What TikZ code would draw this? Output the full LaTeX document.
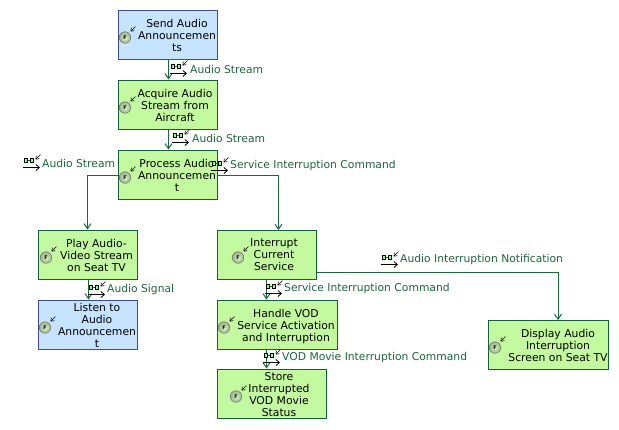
\documentclass[tikz,border=0pt]{standalone}
\usepackage{fontspec}
\setmainfont{DejaVu Sans}
\usetikzlibrary{arrows.meta}
\definecolor{linkgreen}{HTML}{1F6440}
\definecolor{boxgreen}{HTML}{C3FA9F}
\definecolor{boxgreenline}{HTML}{15603A}
\definecolor{boxblue}{HTML}{C6E4FF}
\definecolor{boxblueline}{HTML}{3D4C8C}
\tikzset{
  greenbox/.style={draw=boxgreenline,fill=boxgreen,line width=1pt,inner sep=0pt},
  bluebox/.style={draw=boxblueline,fill=boxblue,line width=1pt,inner sep=0pt},
  boxtext/.style={align=center,inner sep=0pt,yshift=-2.3pt,font=\fontsize{10.8}{12}\selectfont\strut},
  flowlabel/.style={anchor=west,inner sep=0pt,text=linkgreen,font=\fontsize{10.75}{12}\selectfont},
  flow/.style={draw=linkgreen,line width=1pt,-{Straight Barb[length=5pt,width=7pt,line width=1pt]}},
  funcicon/.pic={
    \shade[inner color=boxgreen!70!white,outer color=boxgreen!40!gray,draw=black!55,line width=.5pt] (0,.5) circle (5.8);
    \node[inner sep=0pt,font=\fontsize{5}{5}\selectfont\bfseries] at (0,.5) {F};
    \draw[black,line width=.6pt,-{Straight Barb[length=2.8pt,width=4.2pt,line width=.6pt]}] (10.5,-10.5) -- (5.5,-5.5);
  },
  msgicon/.pic={
    \draw[black,line width=.8pt,-{Straight Barb[length=3.5pt,width=6pt,line width=.8pt]}] (0,4.5) -- (17,4.5);
    \draw[black,fill=green!45!white,line width=.6pt] (1,-4.5) rectangle (4.5,-.5) (7,-4.5) rectangle (10.5,-.5);
    \draw[green!50!black,line width=.8pt] (4.5,-2.5) -- (7,-2.5);
    \draw[black,line width=.6pt,-{Straight Barb[length=2.8pt,width=4.2pt,line width=.6pt]}] (17.5,-8.5) -- (12.5,-3.5);
  }
}
\begin{document}
\begin{tikzpicture}[x=1pt,y=-1pt]
\useasboundingbox[fill=white] (0,0) rectangle (619,429);
% boxes
\node[bluebox,minimum width=99pt,minimum height=49pt] (send) at (167.5,34.5) {};
\node[greenbox,minimum width=99pt,minimum height=49pt] (acquire) at (167.5,104.5) {};
\node[greenbox,minimum width=99pt,minimum height=49pt] (process) at (167.5,174.5) {};
\node[greenbox,minimum width=99pt,minimum height=49pt] (play) at (87.5,254.5) {};
\node[bluebox,minimum width=99pt,minimum height=49pt] (listen) at (87.5,324.5) {};
\node[greenbox,minimum width=99pt,minimum height=49pt] (interrupt) at (266.5,254.5) {};
\node[greenbox,minimum width=120pt,minimum height=49pt] (handle) at (277,324.5) {};
\node[greenbox,minimum width=109pt,minimum height=49pt] (store) at (271.5,393.5) {};
\node[greenbox,minimum width=120pt,minimum height=49pt] (display) at (548,344.5) {};
% connectors
\coordinate (procL) at (process.west |- 0,175.5);
\coordinate (procR) at (process.east |- 0,175.5);
\coordinate (intR) at (interrupt.east |- 0,272);
\draw[flow] ([xshift=1pt]send.south) -- ([xshift=1pt]acquire.north);
\draw[flow] ([xshift=1pt]acquire.south) -- ([xshift=1pt]process.north);
\draw[flow] (procL) -| (play.north);
\draw[flow] (procR) -| (278.5,230);
\draw[flow] ([xshift=1pt]play.south) -- ([xshift=1pt]listen.north);
\draw[flow] (interrupt.south) -- (interrupt.south |- handle.north);
\draw[flow] (interrupt.south |- handle.south) -- (interrupt.south |- store.north);
\draw[flow] (intR) -| (558,320);
% box texts
\node[boxtext] (send-t) at (177,34.5) {Send Audio\\Announcemen\\ts};
\node[boxtext] (acquire-t) at (175,104.5) {Acquire Audio\\Stream from\\Aircraft};
\node[boxtext] (process-t) at (177,174.5) {Process Audio\\Announcemen\\t};
\node[boxtext] (play-t) at (96.5,254.5) {Play Audio-\\Video Stream\\on Seat TV};
\node[boxtext] (listen-t) at (97,324.5) {Listen to\\Audio\\Announcemen\\t};
\node[boxtext] (interrupt-t) at (274,254.5) {Interrupt\\Current\\Service};
\node[boxtext] (handle-t) at (286,324.5) {Handle VOD\\Service Activation\\and Interruption};
\node[boxtext] (store-t) at (279,393.5) {Store\\Interrupted\\VOD Movie\\Status};
\node[boxtext] (display-t) at (558,344.5) {Display Audio\\Interruption\\Screen on Seat TV};
% function icons
\pic at (125,37) {funcicon};
\pic at (125,107) {funcicon};
\pic at (125,177) {funcicon};
\pic at (46,257) {funcicon};
\pic at (45,327) {funcicon};
\pic at (238,257) {funcicon};
\pic at (224,327) {funcicon};
\pic at (236,396) {funcicon};
\pic at (495,347) {funcicon};
% flow labels
\pic at (170,69) {msgicon};
\node[flowlabel] (l1) at (190,69) {Audio Stream};
\pic at (172,138) {msgicon};
\node[flowlabel] (l2) at (192,138) {Audio Stream};
\pic at (23,163) {msgicon};
\node[flowlabel] (l3) at (42,163) {Audio Stream};
\pic at (211,166) {msgicon};
\node[flowlabel] (l4) at (230,166) {Service Interruption Command};
\pic at (381,260) {msgicon};
\node[flowlabel] (l5) at (400,260) {Audio Interruption Notification};
\pic at (265,289) {msgicon};
\node[flowlabel] (l6) at (284,289) {Service Interruption Command};
\pic at (88,290) {msgicon};
\node[flowlabel] (l7) at (107,290) {Audio Signal};
\pic at (263,358) {msgicon};
\node[flowlabel] (l8) at (282,358) {VOD Movie Interruption Command};
\end{tikzpicture}
\end{document}
